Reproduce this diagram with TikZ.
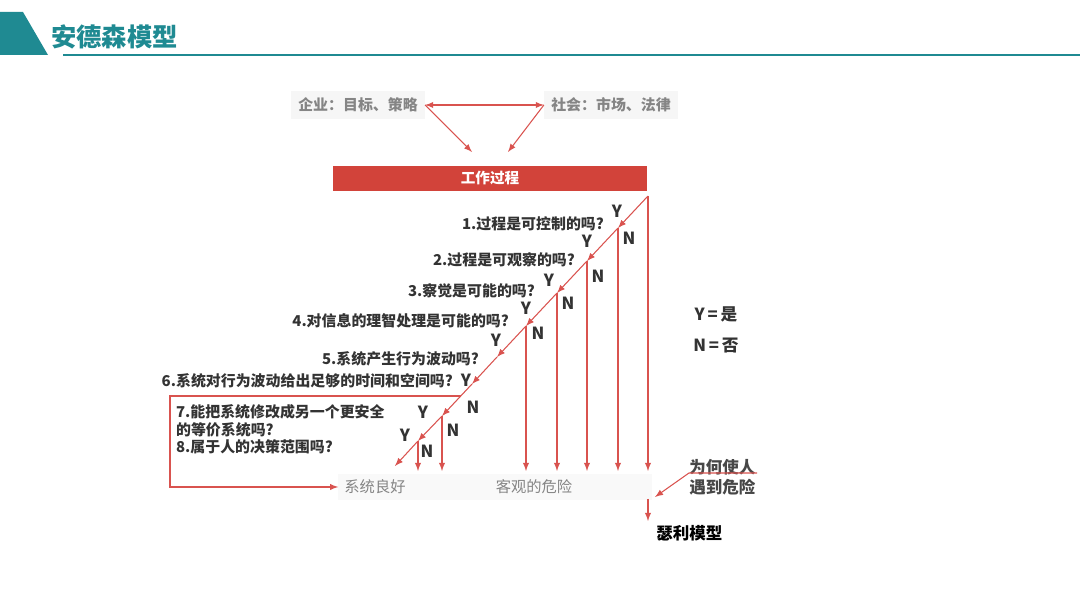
\documentclass[tikz,border=0pt]{standalone}
\usepackage{fontspec}
\setmainfont{Noto Sans CJK SC}
\usepackage{xcolor}
\usepackage{tikz}
\usetikzlibrary{arrows,positioning,calc}

\definecolor{teal1}{HTML}{1F8A92}
\definecolor{redbar}{HTML}{D2433A}
\definecolor{redline}{HTML}{D9534F}
\definecolor{qtext}{HTML}{333333}
\definecolor{gtext}{HTML}{858585}

\begin{document}
\begin{tikzpicture}[
    x=0.02cm, y=-0.02cm,
    question/.style={anchor=east, inner sep=1pt, text=qtext, font=\fontsize{8.5}{10.2}\selectfont\bfseries},
    yn/.style={inner sep=0pt, text=qtext, font=\fontsize{9.5}{10}\selectfont\bfseries},
    graybox/.style={fill=gray!7, inner sep=4pt, text=gtext, font=\fontsize{8.5}{10}\selectfont\bfseries},
    arrow/.style={-latex, redline, line width=0.6pt}
]
\useasboundingbox (0,0) rectangle (1080,607);

% Title bar
\fill[teal1] (0,12) -- (23,12) -- (48,55) -- (0,55) -- cycle;
\node[anchor=west, text=teal1, font=\fontsize{14.4}{16}\selectfont\bfseries, inner sep=0pt] (title) at (51,37) {安德森模型};
\draw[teal1, line width=1.2pt] (63,55) -- (1080,55);

% Top
\node[graybox] (ent) at (358,105) {企业：目标、策略};
\node[graybox] (soc) at (611,105) {社会：市场、法律};
\node[fill=redbar, minimum width=6.28cm, minimum height=0.46cm, text=white, font=\fontsize{8.3}{10}\selectfont\bfseries] (work) at (490,178.5) {工作过程};
\coordinate (ta) at (472,152);
\coordinate (tb) at (508,152);
\draw[latex-latex, redline, line width=0.6pt] (ent.east) -- (soc.west);
\draw[arrow] (ent.east) -- (ta);
\draw[arrow] (soc.west) -- (tb);

% Bottom band
\fill[gray!5] (338,474) rectangle (652,500);
\node[text=gtext, font=\fontsize{8.7}{10}\selectfont] (good) at (375,487) {系统良好};
\node[text=gtext, font=\fontsize{8.7}{10}\selectfont] (risk) at (534,487) {客观的危险};

% Diagonal points
\coordinate (top) at (648,196);
\coordinate (q1) at (618,228);
\coordinate (q2) at (587,261);
\coordinate (q3) at (557,293);
\coordinate (q4) at (526,326);
\coordinate (q5) at (497,357);
\coordinate (q6) at (472,384);
\coordinate (hz) at (461,396);
\coordinate (q7) at (442,416);
\coordinate (q8) at (418,441);
\coordinate (dend) at (395,466);

% Questions
\node[question] (t1) at (606,224) {1.过程是可控制的吗?};
\node[question] (t2) at (577,260) {2.过程是可观察的吗?};
\node[question] (t3) at (537,291) {3.察觉是可能的吗?};
\node[question] (t4) at (511,321) {4.对信息的理智处理是可能的吗?};
\node[question] (t5) at (481,359) {5.系统产生行为波动吗?};
\node[question] (t6) at (455,381) {6.系统对行为波动给出足够的时间和空间吗?};
\node[question, anchor=north west, align=left] (t7) at (174,402) {7.能把系统修改成另一个更安全\\的等价系统吗?\\8.属于人的决策范围吗?};

% Y and N
\node[yn] (y1) at (617,211) {Y};
\node[yn] (y2) at (587,241) {Y};
\node[yn] (y3) at (549,280) {Y};
\node[yn] (y4) at (526,308) {Y};
\node[yn] (y5) at (496,340) {Y};
\node[yn] (y6) at (466,380) {Y};
\node[yn] (y7) at (423,412) {Y};
\node[yn] (y8) at (405,435) {Y};
\node[yn] (n1) at (629,238) {N};
\node[yn] (n2) at (598,276) {N};
\node[yn] (n3) at (568,303) {N};
\node[yn] (n4) at (538,333) {N};
\node[yn] (n6) at (473,407) {N};
\node[yn] (n7) at (453,430) {N};
\node[yn] (n8) at (427,451) {N};

% Diagonal arrows
\draw[arrow] (top) -- (q1);
\draw[arrow] (q1) -- (q2);
\draw[arrow] (q2) -- (q3);
\draw[arrow] (q3) -- (q4);
\draw[arrow] (q4) -- (q5);
\draw[arrow] (q5) -- (q6);
\draw[arrow] (q6) -- (q7);
\draw[arrow] (q7) -- (q8);
\draw[arrow] (q8) -- (dend);

% Vertical arrows
\draw[arrow] (top) -- (top |- 0,471);
\draw[arrow] (q1) -- (q1 |- 0,471);
\draw[arrow] (q2) -- (q2 |- 0,471);
\draw[arrow] (q3) -- (q3 |- 0,471);
\draw[arrow] (q4) -- (q4 |- 0,471);
\draw[arrow] (q7) -- (q7 |- 0,471);
\draw[arrow] (q8) -- (q8 |- 0,471);

% Loop to system good
\coordinate (la) at (170,396);
\coordinate (lb) at (170,487);
\draw[arrow] (hz) -- (la) -- (lb) -- (good.west);

% Right side
\node[yn, font=\fontsize{9.5}{10}\selectfont\bfseries] (yes) at (716,314) {Y\,=\,是};
\node[yn, font=\fontsize{9.5}{10}\selectfont\bfseries] (no) at (716,346) {N\,=\,否};
\node[anchor=west, inner sep=0pt, text=qtext!90, font=\fontsize{9.4}{11.4}\selectfont\bfseries, align=left] (why) at (689,477) {为何使人\\遇到危险};
\coordinate (wa) at (757,473);
\coordinate (wb) at (689,473);
\coordinate (wc) at (655,497);
\coordinate (sd) at (648,499);
\node[anchor=west, inner sep=0pt, font=\fontsize{9.4}{11}\selectfont\bfseries] (sally) at (656,533) {瑟利模型};
\draw[arrow] (wa) -- (wb) -- (wc);
\draw[arrow] (sd) -- (sd |- 0,521);

\end{tikzpicture}
\end{document}
